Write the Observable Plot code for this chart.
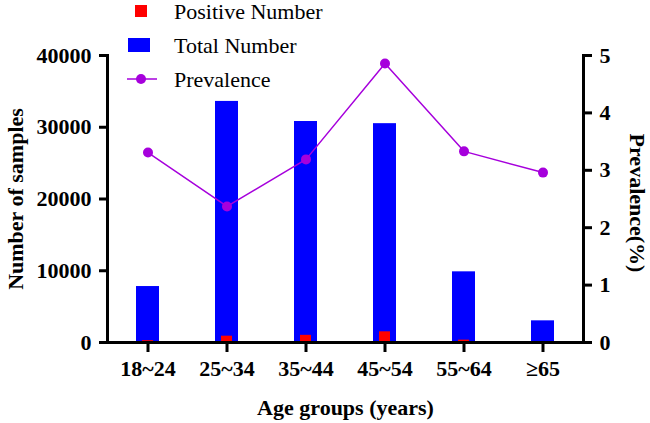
<!DOCTYPE html>
<html>
<head>
<meta charset="utf-8">
<script src="https://cdn.jsdelivr.net/npm/d3@7"></script>
<script src="https://cdn.jsdelivr.net/npm/@observablehq/plot@0.6"></script>
<style>
  body { margin: 0; background: #fff; }
  #wrap { position: relative; width: 650px; height: 423px; font-family: "Liberation Serif", "DejaVu Serif", serif; }
  #wrap svg text { font-family: "Liberation Serif", "DejaVu Serif", serif !important; }
  #overlay { position: absolute; left: 0; top: 0; pointer-events: none; }
</style>
</head>
<body>
<div id="wrap"></div>
<script>
const ages = ["18~24", "25~34", "35~44", "45~54", "55~64", "≥65"];
const totals = [7800, 33600, 30800, 30500, 9850, 3020];
const positives = [258, 880, 1000, 1490, 330, 90];
const prevalence = [3.31, 2.37, 3.19, 4.86, 3.33, 2.96];
const leftTicks = [0, 10000, 20000, 30000, 40000];
const rightTicks = [0, 1, 2, 3, 4, 5];
const leftMax = 40000, rightMax = 5;
const k = leftMax / rightMax;

const data = ages.map((a, i) => ({age: a, total: totals[i], positive: positives[i], prev: prevalence[i]}));
const purple = "#a600dc";
const serif = '"Liberation Serif", "DejaVu Serif", serif';

const chart = Plot.plot({
  width: 650, height: 423,
  marginTop: 55, marginBottom: 81, marginLeft: 107, marginRight: 67,
  style: {fontFamily: serif, fontSize: "22px", fontWeight: "bold", color: "#000", background: "transparent"},
  x: {domain: ages, padding: 0},
  y: {domain: [0, leftMax]},
  marks: [
    Plot.barY(data, {x: "age", y: "total", fill: "#0000ff", insetLeft: 28, insetRight: 28}),
    Plot.barY(data, {x: "age", y: "positive", fill: "#ff0000", insetLeft: 34, insetRight: 34}),
    Plot.line(data, {x: "age", y: d => d.prev * k, stroke: purple, strokeWidth: 1.5}),
    Plot.dot(data, {x: "age", y: d => d.prev * k, r: 5, fill: purple}),
    Plot.axisX({ticks: ages, tickSize: 10, tickPadding: 8, strokeWidth: 3, label: "Age groups (years)", labelAnchor: "center", labelOffset: 72, labelArrow: "none"}),
    Plot.axisY({ticks: leftTicks, tickFormat: d => String(d), tickSize: 8, tickPadding: 8, strokeWidth: 3, label: "Number of samples", labelAnchor: "center", labelOffset: 100, labelArrow: "none"}),
    Plot.axisY({anchor: "right", ticks: rightTicks.map(v => v * k), tickFormat: v => String(v / k), tickSize: 8, tickPadding: 8, strokeWidth: 3, label: null}),
    Plot.frame({anchor: "left", strokeWidth: 3}),
    Plot.frame({anchor: "right", strokeWidth: 3}),
    Plot.frame({anchor: "bottom", strokeWidth: 3})
  ]
});
document.getElementById("wrap").appendChild(chart);

// Overlay: legend and right-axis title
const legendItems = [
  {label: "Positive Number", kind: "sq", color: "#ff0000"},
  {label: "Total Number", kind: "rect", color: "#0000ff"},
  {label: "Prevalence", kind: "line", color: purple}
];
const ov = d3.select("#wrap").append("svg").attr("id", "overlay").attr("width", 650).attr("height", 423);
legendItems.forEach((it, i) => {
  const cy = 11 + i * 34;
  const g = ov.append("g");
  if (it.kind === "sq") g.append("rect").attr("x", 135).attr("y", cy - 6).attr("width", 12).attr("height", 12).attr("fill", it.color);
  if (it.kind === "rect") g.append("rect").attr("x", 128).attr("y", cy - 7).attr("width", 22).attr("height", 14).attr("fill", it.color);
  if (it.kind === "line") {
    g.append("line").attr("x1", 127).attr("x2", 157).attr("y1", cy).attr("y2", cy).attr("stroke", it.color).attr("stroke-width", 1.5);
    g.append("circle").attr("cx", 141).attr("cy", cy).attr("r", 5).attr("fill", it.color);
  }
  g.append("text").attr("x", 174).attr("y", cy).attr("dy", "0.35em")
    .style("font-family", serif).attr("font-size", 22).attr("fill", "#000")
    .text(it.label);
});
ov.append("text")
  .attr("transform", "translate(638,203) rotate(90)")
  .attr("text-anchor", "middle").attr("dy", "0.35em")
  .style("font-family", serif).attr("font-size", 22).attr("font-weight", "bold").attr("fill", "#000")
  .text("Prevalence(%)");
</script>
</body>
</html>
